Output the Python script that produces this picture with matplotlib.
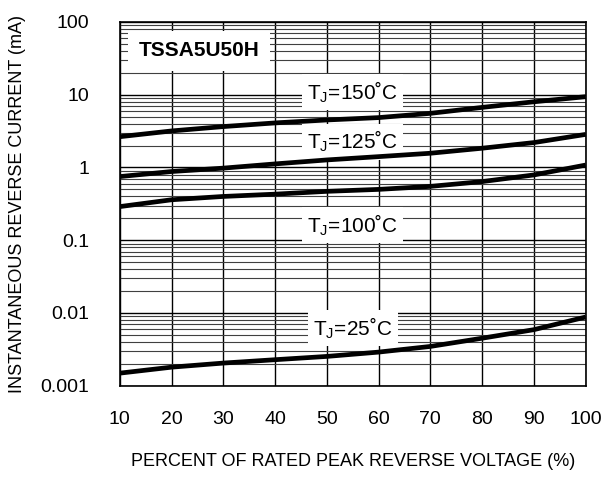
import matplotlib
matplotlib.use("Agg")
import matplotlib.pyplot as plt
from matplotlib.ticker import FixedLocator, FuncFormatter, LogLocator, NullFormatter

plt.rcParams['font.family'] = ['Liberation Sans', 'DejaVu Sans']
plt.rcParams['mathtext.fontset'] = 'custom'
plt.rcParams['mathtext.rm'] = 'Liberation Sans'

# data
voltage_pct = [10, 20, 30, 40, 50, 60, 70, 80, 90, 100]
ir_150 = [2.65, 3.18, 3.65, 4.1, 4.5, 4.85, 5.55, 6.7, 8.0, 9.4]
ir_125 = [0.75, 0.88, 0.98, 1.12, 1.27, 1.41, 1.57, 1.84, 2.2, 2.85]
ir_100 = [0.29, 0.36, 0.40, 0.43, 0.47, 0.50, 0.55, 0.64, 0.79, 1.08]
ir_25 = [0.00149, 0.0018, 0.00205, 0.00228, 0.00253, 0.0029, 0.00347, 0.0045, 0.0059, 0.0088]

curve_labels = ["150", "125", "100", "25"]
label_y = [10.9, 2.27, 0.163, 0.0062]

fig = plt.figure(figsize=(6.05, 4.78), dpi=100)
ax = fig.add_axes([0.198, 0.193, 0.770, 0.761])

ax.set_yscale('log')
ax.set_xlim(10, 100)
ax.set_ylim(0.001, 100)

ax.xaxis.set_major_locator(FixedLocator(voltage_pct))
ax.yaxis.set_major_locator(LogLocator(base=10))
ax.yaxis.set_minor_locator(LogLocator(base=10, subs=range(2, 10)))
ax.yaxis.set_minor_formatter(NullFormatter())
ax.yaxis.set_major_formatter(FuncFormatter(lambda v, p: '%g' % v))

ax.grid(True, which='major', axis='both', color='black', lw=1.0)
ax.grid(True, which='minor', axis='y', color='0.25', lw=0.8)
ax.set_axisbelow(True)

ax.tick_params(which='both', length=0, labelsize=14)
ax.tick_params(axis='y', pad=22)
ax.tick_params(axis='x', pad=18)
for s in ax.spines.values():
    s.set_linewidth(1.2)

for ys in [ir_150, ir_125, ir_100, ir_25]:
    ax.plot(voltage_pct, ys, color='black', lw=3.4, solid_capstyle='butt', zorder=4)

for lab, y in zip(curve_labels, label_y):
    ax.text(55, y, r'T$_\mathregular{J}$=' + lab + '\u02daC', ha='center', va='center',
            fontsize=15, zorder=3,
            bbox=dict(boxstyle='square,pad=0.25', fc='white', ec='none'))

ax.text(25.3, 40, 'TSSA5U50H', ha='center', va='center', fontsize=15, fontweight='bold',
        zorder=3, bbox=dict(boxstyle='square,pad=0.5', fc='white', ec='none'))

ax.set_xlabel('PERCENT OF RATED PEAK REVERSE VOLTAGE (%)', fontsize=13, labelpad=18)
ax.set_ylabel('INSTANTANEOUS REVERSE CURRENT (mA)', fontsize=13, labelpad=10)

plt.savefig('out.png', dpi=100)
